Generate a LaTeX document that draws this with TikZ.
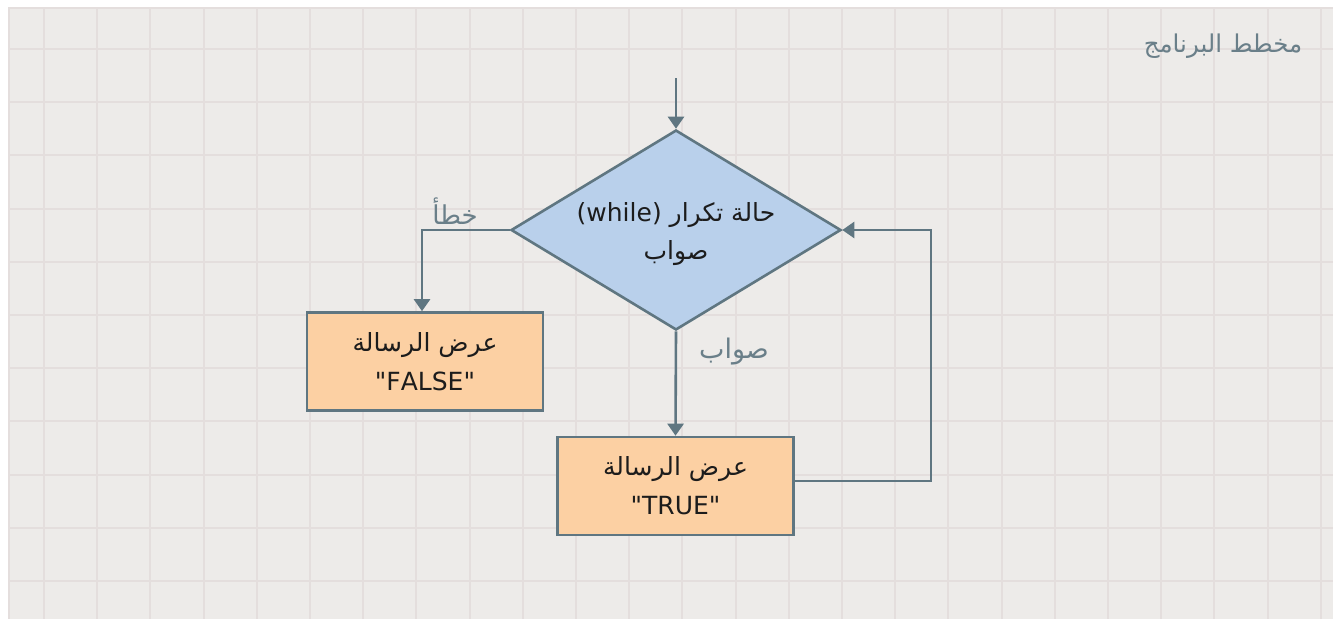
\documentclass[tikz,border=0pt]{standalone}
\usepackage{fontspec}
\usetikzlibrary{shapes.geometric,arrows.meta}
\TeXXeTstate=1
\setmainfont{DejaVu Sans}
\newfontfamily\arabicfont[Script=Arabic]{DejaVu Sans}
\definecolor{bg}{HTML}{EDEBE9}
\definecolor{gridc}{HTML}{E4DEDD}
\definecolor{edgec}{HTML}{5F7681}
\definecolor{labc}{HTML}{6A7F89}
\definecolor{diafill}{HTML}{B9D0EB}
\definecolor{boxfill}{HTML}{FCD0A3}
\definecolor{txt}{HTML}{1C1C1C}
\begin{document}
\begin{tikzpicture}[x=1pt,y=-1pt,
  arr/.style={draw=edgec,line width=2.6pt,-{Triangle[width=16pt,length=12pt]}},
  gridline/.style={draw=gridc,line width=2pt},
  decision/.style={diamond,draw=edgec,line width=2.6pt,fill=diafill,minimum width=330pt,minimum height=200pt,inner sep=0pt,aspect=1.65},
  nodetext/.style={align=center,text=txt,inner sep=0pt,font=\arabicfont\fontsize{25}{38}\selectfont},
  msgbox/.style={rectangle,draw=edgec,line width=2.6pt,fill=boxfill,minimum width=236pt,minimum height=98pt,inner sep=0pt,align=center,text=txt,font=\arabicfont\fontsize{25}{39}\selectfont},
  lab/.style={text=labc,font=\arabicfont\fontsize{26}{30}\selectfont,inner sep=0pt}]
\useasboundingbox (0,0) rectangle (1333,619);
\fill[white] (0,0) rectangle (1333,619);
\fill[bg] (8,7) rectangle (1333,619);
\foreach \i in {0,...,24} \draw[gridline] ({44+53.2*\i},7) -- ({44+53.2*\i},619);
\foreach \j in {0,...,10} \draw[gridline] (8,{49+53.2*\j}) -- (1333,{49+53.2*\j});
\draw[gridline] (9,619) -- (9,8) -- (1333,8);

\node[lab,font=\arabicfont\fontsize{24.5}{28}\selectfont] (title) at (1223,46) {\beginR مخطط البرنامج\endR};

\node[decision] (dia) at (676,230) {};
\node[nodetext] (diatext) at (676,234) {\beginR حالة تكرار \beginL(while)\endL\endR\\\beginR صواب\endR};
\node[msgbox] (fbox) at (425,361.5) {\beginR عرض الرسالة\endR\\"FALSE"};
\node[msgbox] (tbox) at (675.5,486) {\beginR عرض الرسالة\endR\\"TRUE"};

\coordinate (start) at (676,78);
\coordinate (fcorner) at (422,230);
\coordinate (loop) at (931,481);

\draw[arr] (start) -- (dia.north);
\draw[arr] (dia.west) -- (fcorner) -- (fcorner |- fbox.north);
\draw[arr] (dia.south) -- (tbox.north);
\draw[arr] (tbox.east |- loop) -- (loop) |- (dia.east);

\node[lab] (lfalse) at (455,211) {\beginR خطأ\endR};
\node[lab,font=\arabicfont\fontsize{27}{30}\selectfont] (ltrue) at (734,352) {\beginR صواب\endR};
\end{tikzpicture}
\end{document}
